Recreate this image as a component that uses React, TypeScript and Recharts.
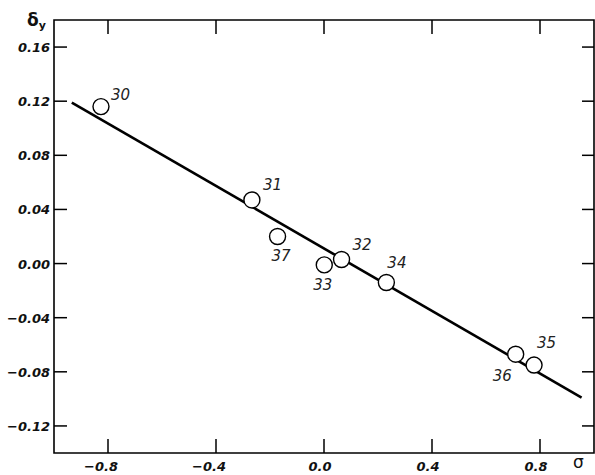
import React from 'react';
import { ScatterChart, Scatter, XAxis, YAxis, ReferenceArea } from 'recharts';

// measured points (sigma, delta_y) with their compound numbers
const pointIds = ['30', '31', '37', '33', '32', '34', '36', '35'];
const sigmaValues = [-0.826, -0.267, -0.172, 0.001, 0.065, 0.231, 0.71, 0.778];
const deltaValues = [0.116, 0.047, 0.02, -0.001, 0.003, -0.014, -0.067, -0.075];

// regression line end points
const fitSigma = [-0.934, 0.954];
const fitDelta = [0.119, -0.099];

const xTicks = [-0.8, -0.4, 0.0, 0.4, 0.8];
const yTicks = [-0.12, -0.08, -0.04, 0.0, 0.04, 0.08, 0.12, 0.16];

const points = pointIds.map((id, i) => ({ id, x: sigmaValues[i], y: deltaValues[i] }));
const fitLine = fitSigma.map((x, i) => ({ x, y: fitDelta[i] }));

// label placement relative to circle centre (text start, baseline)
const labelOffset: Record<string, [number, number]> = {
  '30': [10, -7],
  '31': [11, -10],
  '37': [-6, 24],
  '33': [-11, 25],
  '32': [11, -10],
  '34': [1, -15],
  '35': [3, -17],
  '36': [-23, 27],
};

const W = 595;
const H = 475;
const PLOT_LEFT = 54;
const PLOT_RIGHT = 594;
const PLOT_TOP = 20;
const PLOT_BOTTOM = 453;
const TICK_LEN = 14;

const tickFont = { fontFamily: 'DejaVu Sans', fontSize: 13, fontStyle: 'italic', fontWeight: 'bold' } as const;

const fmt = (v: number, digits: number) => {
  const s = Math.abs(v).toFixed(digits);
  return v < -1e-9 ? '\u2212' + s : s;
};

const XTick = (props: any) => {
  const { x, payload } = props;
  const v = payload.value as number;
  return (
    <g>
      <line x1={x} x2={x} y1={PLOT_BOTTOM} y2={PLOT_BOTTOM - TICK_LEN} stroke="#000" strokeWidth={1.5} />
      <line x1={x} x2={x} y1={PLOT_TOP} y2={PLOT_TOP + TICK_LEN} stroke="#000" strokeWidth={1.5} />
      <text x={x + (v < 0 ? -7 : -4)} y={PLOT_BOTTOM + 18} textAnchor="middle" fill="#111" {...tickFont}>
        {fmt(v, 1)}
      </text>
    </g>
  );
};

const YTick = (props: any) => {
  const { y, payload } = props;
  const v = payload.value as number;
  return (
    <g>
      <line x1={PLOT_LEFT} x2={PLOT_LEFT + 13} y1={y} y2={y} stroke="#000" strokeWidth={1.5} />
      <line x1={PLOT_RIGHT} x2={PLOT_RIGHT - 12} y1={y} y2={y} stroke="#000" strokeWidth={1.5} />
      <text x={PLOT_LEFT - 4} y={y + 5} textAnchor="end" fill="#111" {...tickFont}>
        {fmt(v, 2)}
      </text>
    </g>
  );
};

const PointShape = (props: any) => {
  const { cx, cy, payload } = props;
  const [dx, dy] = labelOffset[payload.id] || [10, -10];
  return (
    <g>
      <circle cx={cx} cy={cy} r={8} fill="#fff" stroke="#000" strokeWidth={1.4} />
      <text
        x={cx + dx}
        y={cy + dy}
        fill="#222"
        fontFamily="DejaVu Sans"
        fontSize={15}
        fontStyle="italic"
      >
        {payload.id}
      </text>
    </g>
  );
};

export default function App() {
  return (
    <div style={{ position: 'relative', width: W, height: H, background: '#fff' }}>
      <style>{'body{margin:0;}'}</style>
      <ScatterChart
        width={W}
        height={H}
        margin={{ top: PLOT_TOP, right: W - PLOT_RIGHT, bottom: 0, left: 0 }}
      >
        <XAxis
          type="number"
          dataKey="x"
          domain={[-1, 1]}
          ticks={xTicks}
          height={H - PLOT_BOTTOM}
          axisLine={false}
          tickLine={false}
          tickSize={0}
          tickMargin={0}
          tick={<XTick />}
          allowDataOverflow
        />
        <YAxis
          type="number"
          dataKey="y"
          domain={[-0.14, 0.18]}
          ticks={yTicks}
          width={PLOT_LEFT}
          axisLine={false}
          tickLine={false}
          tickSize={0}
          tickMargin={0}
          tick={<YTick />}
          allowDataOverflow
        />
        <ReferenceArea x1={-1} x2={1} y1={-0.14} y2={0.18} fill="none" stroke="#000" strokeWidth={1.6} />
        <Scatter
          data={fitLine}
          line={{ stroke: '#000', strokeWidth: 2.6 }}
          shape={() => <g />}
          isAnimationActive={false}
        />
        <Scatter data={points} shape={<PointShape />} isAnimationActive={false} />
      </ScatterChart>
      <div
        style={{
          position: 'absolute',
          left: 27,
          top: 10,
          fontFamily: 'DejaVu Sans',
          fontWeight: 'bold',
          fontSize: 17,
          color: '#111',
        }}
      >
        δ<span style={{ fontSize: 11, position: 'relative', top: 3 }}>y</span>
      </div>
      <div
        style={{
          position: 'absolute',
          left: 573,
          top: 452,
          fontFamily: 'DejaVu Sans',
          fontSize: 17,
          lineHeight: '20px',
          color: '#111',
        }}
      >
        σ
      </div>
    </div>
  );
}
